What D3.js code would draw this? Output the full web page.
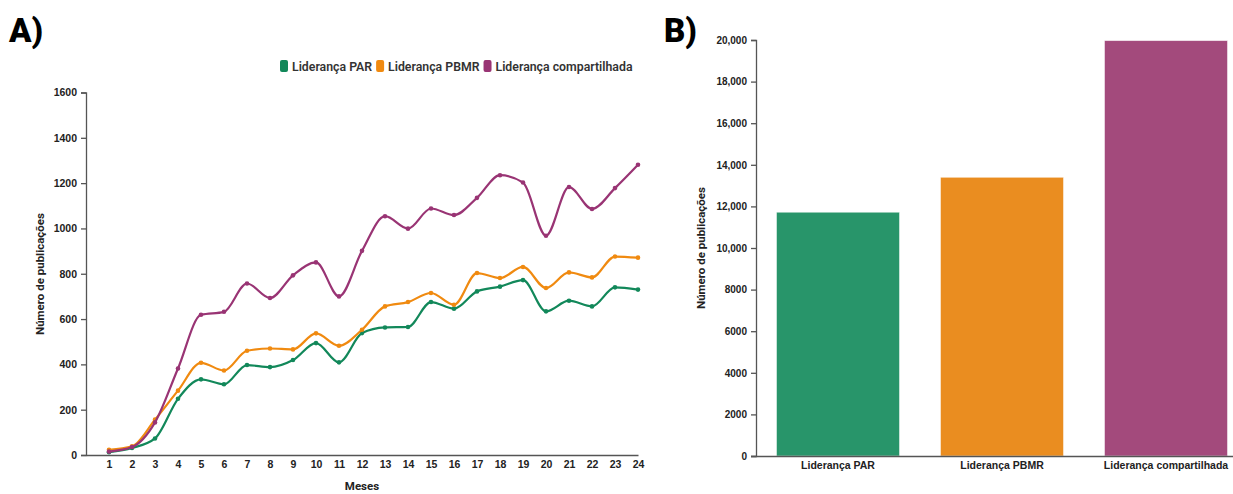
<!DOCTYPE html>
<html>
<head>
<meta charset="utf-8">
<script src="https://cdn.jsdelivr.net/npm/d3@7"></script>
<style>
  html, body { margin: 0; padding: 0; background: #fff; }
  svg { display: block; font-family: Roboto, "Noto Sans", sans-serif; }
  .axis text { fill: #222; font-weight: 700; }
  .axis path, .axis line { stroke: #555; stroke-width: 1.3; }
</style>
</head>
<body>
<svg id="chart" width="1233" height="494"></svg>
<script>
// Monthly publication counts (months 1–24)
const months = d3.range(1, 25);
const seriesNames = ["Liderança PAR", "Liderança PBMR", "Liderança compartilhada"];
const parValues = [12, 31, 73, 248, 334, 312, 397, 388, 419, 494, 409, 538,
                   563, 565, 675, 646, 722, 743, 772, 634, 681, 656, 740, 730];
const pbmrValues = [23, 38, 156, 284, 407, 373, 460, 470, 466, 537, 482, 553,
                    656, 675, 715, 663, 803, 781, 830, 737, 806, 784, 876, 871];
const sharedValues = [15, 35, 144, 382, 619, 632, 757, 693, 793, 850, 700, 901,
                      1054, 999, 1088, 1059, 1135, 1235, 1203, 968, 1183, 1086, 1178, 1281];

// Totals per leadership type
const totalCategories = ["Liderança PAR", "Liderança PBMR", "Liderança compartilhada"];
const totalValues = [11720, 13400, 19970];

// Axis ticks
const lineYTicks = [0, 200, 400, 600, 800, 1000, 1200, 1400, 1600];
const barYTicks = [0, 2000, 4000, 6000, 8000, 10000, 12000, 14000, 16000, 18000, 20000];

const lineColors = ["#12885a", "#f08a10", "#993474"];
const barColors = ["#28956a", "#ea8d20", "#a34a7c"];

const svg = d3.select("#chart");

// ---------- Panel A: line chart ----------
const x = d3.scaleLinear().domain([0, 24]).range([86, 638]);
const y = d3.scaleLinear().domain([0, 1600]).range([455, 92.5]);

svg.append("text").attr("x", 9).attr("y", 42)
  .attr("font-size", 33).attr("font-weight", 900).attr("fill", "#000")
  .text("A)");

svg.append("g").attr("class", "axis")
  .attr("transform", "translate(0,455)")
  .call(d3.axisBottom(x).tickValues(months).tickSize(0).tickPadding(6))
  .call(g => g.selectAll("text").attr("font-size", 10.5));

svg.append("g").attr("class", "axis")
  .attr("transform", "translate(86,0)")
  .call(d3.axisLeft(y).tickValues(lineYTicks).tickSize(5).tickPadding(4).tickFormat(d3.format("d")))
  .call(g => g.selectAll("text").attr("font-size", 10.5));

svg.append("text")
  .attr("transform", "translate(44,274) rotate(-90)")
  .attr("text-anchor", "middle").attr("font-size", 11.5).attr("font-weight", 700).attr("fill", "#222")
  .text("Número de publicações");

svg.append("text")
  .attr("x", 362).attr("y", 490)
  .attr("text-anchor", "middle").attr("font-size", 11.5).attr("font-weight", 700).attr("fill", "#222")
  .text("Meses");

const series = [parValues, pbmrValues, sharedValues];
const line = d3.line()
  .x((d, i) => x(months[i]))
  .y(d => y(d))
  .curve(d3.curveMonotoneX);

series.forEach((vals, k) => {
  svg.append("path")
    .attr("d", line(vals))
    .attr("fill", "none")
    .attr("stroke", lineColors[k])
    .attr("stroke-width", 2.2);
  svg.append("g").selectAll("circle")
    .data(vals).join("circle")
    .attr("cx", (d, i) => x(months[i]))
    .attr("cy", d => y(d))
    .attr("r", 2.3)
    .attr("fill", lineColors[k]);
});

// Legend
const legend = svg.append("g").attr("transform", "translate(280,66)");
let lx = 0;
seriesNames.forEach((name, k) => {
  legend.append("rect").attr("x", lx).attr("y", -6).attr("width", 8).attr("height", 12)
    .attr("rx", 2).attr("fill", lineColors[k]);
  const t = legend.append("text").attr("x", lx + 12).attr("y", 4.5)
    .attr("font-size", 12.3).attr("font-weight", 600).attr("fill", "#333").text(name);
  lx += 12 + t.node().getComputedTextLength() + 4;
});

// ---------- Panel B: bar chart ----------
svg.append("text").attr("x", 664).attr("y", 42)
  .attr("font-size", 33).attr("font-weight", 900).attr("fill", "#000")
  .text("B)");

const xb = d3.scaleBand().domain(totalCategories).range([756, 1248])
  .paddingInner(0.25).paddingOuter(0.125);
const yb = d3.scaleLinear().domain([0, 20000]).range([456, 40]);

svg.append("g").selectAll("rect")
  .data(totalValues).join("rect")
  .attr("x", (d, i) => xb(totalCategories[i]))
  .attr("width", xb.bandwidth())
  .attr("y", d => yb(d))
  .attr("height", d => yb(0) - yb(d))
  .attr("fill", (d, i) => barColors[i])
  .attr("stroke", "#fff")
  .attr("stroke-opacity", 0.6)
  .attr("stroke-width", 0.8);

const fmtBar = d => d >= 10000 ? d3.format(",")(d) : d3.format("d")(d);
svg.append("g").attr("class", "axis")
  .attr("transform", "translate(756,0)")
  .call(d3.axisLeft(yb).tickValues(barYTicks).tickSize(5).tickPadding(4).tickFormat(fmtBar))
  .call(g => g.selectAll("text").attr("font-size", 10));

svg.append("g").attr("class", "axis")
  .attr("transform", "translate(0,456)")
  .call(d3.axisBottom(xb).tickSize(0).tickPadding(6))
  .call(g => g.select(".domain").attr("d", "M751,0.5H1233"))
  .call(g => g.selectAll("text").attr("font-size", 10.5));

svg.append("text")
  .attr("transform", "translate(705,248) rotate(-90)")
  .attr("text-anchor", "middle").attr("font-size", 11.5).attr("font-weight", 700).attr("fill", "#222")
  .text("Número de publicações");
</script>
</body>
</html>
